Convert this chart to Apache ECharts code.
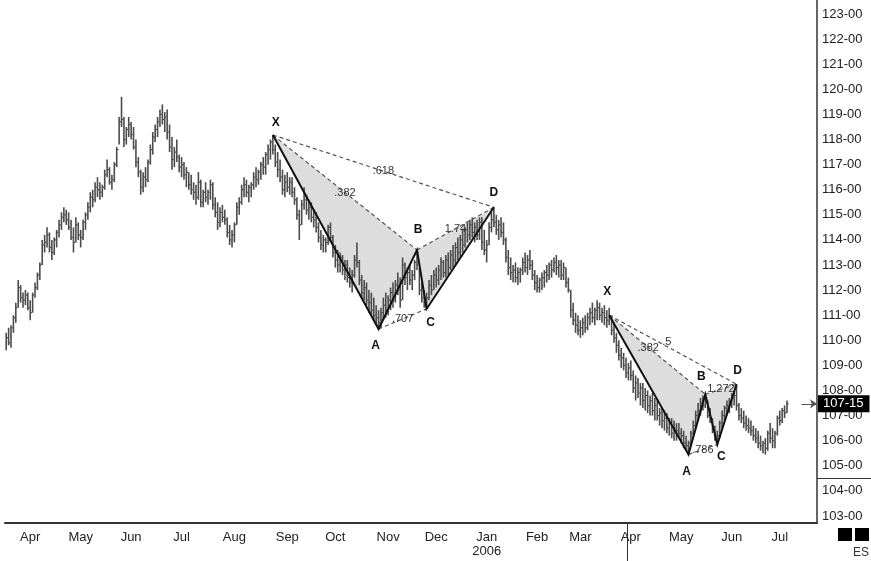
<!DOCTYPE html>
<html><head><meta charset="utf-8">
<script src="https://cdn.jsdelivr.net/npm/echarts@6/dist/echarts.min.js"></script>
<style>html,body{margin:0;padding:0;background:#fff}#c{width:871px;height:561px}</style>
</head><body><div id="c"></div>
<script>
const highs = [
110.3,110.5,110.6,111.0,111.5,112.4,112.2,111.9,112.0,111.9,
111.6,111.9,112.3,112.7,113.1,114.0,114.2,114.5,114.3,114.0,
114.1,114.4,114.8,115.1,115.3,115.2,115.1,114.8,114.5,114.9,
114.7,114.4,114.8,115.1,115.5,115.9,116.0,116.3,116.5,116.3,
116.2,116.8,117.2,116.9,116.6,117.1,117.7,118.9,119.7,118.9,
118.5,118.9,118.7,118.5,118.0,117.3,116.8,116.7,116.9,117.2,
117.8,118.3,118.6,118.9,119.2,119.4,119.1,119.2,118.6,118.1,
117.7,118.0,117.4,117.3,117.1,116.9,116.7,116.6,116.3,116.2,
116.7,116.4,116.0,116.3,116.0,116.4,116.3,115.7,115.5,115.3,
115.4,115.2,114.9,114.6,114.4,114.7,115.5,115.7,116.2,116.5,
116.4,116.2,116.3,116.7,116.9,116.8,117.1,117.3,117.5,117.8,
118.0,118.18,117.8,117.5,117.2,116.8,116.6,116.7,116.5,116.5,
116.1,115.7,115.2,115.6,116.1,115.8,115.6,115.5,115.2,115.1,
114.7,114.4,114.2,114.1,114.6,114.7,114.2,113.8,113.6,113.5,
113.4,113.2,113.2,112.9,112.8,113.4,113.9,113.2,112.6,112.4,
112.3,112.0,111.9,111.7,111.4,111.2,111.3,111.7,111.9,111.8,
112.1,112.3,112.4,112.7,112.5,113.3,113.1,112.9,113.0,112.8,
113.2,113.6,112.9,112.3,112.0,111.9,112.4,112.6,112.8,112.9,
113.0,113.3,113.2,113.4,113.5,113.6,113.8,113.9,114.1,114.2,
114.4,114.5,114.7,114.8,114.9,114.7,114.8,114.9,114.9,114.4,
114.0,114.7,115.1,115.3,115.0,114.8,114.9,114.7,114.1,113.6,
113.3,113.0,113.1,112.9,112.9,113.3,113.5,113.4,113.6,113.2,
112.8,112.6,112.5,112.7,112.8,113.0,113.1,113.2,113.3,113.4,
113.2,113.2,113.1,112.9,112.5,112.0,111.5,111.1,111.0,110.8,
110.9,111.0,111.1,111.3,111.5,111.3,111.6,111.5,111.3,111.4,
111.2,111.3,111.0,110.7,110.3,110.0,109.7,109.5,109.3,109.1,
109.2,108.8,108.6,108.5,108.3,108.3,108.1,108.0,107.8,107.9,
107.7,107.6,107.3,107.3,107.2,107.1,106.9,106.9,106.8,106.7,
106.7,106.5,106.4,106.2,106.0,106.4,106.8,107.2,107.5,107.7,
107.8,107.85,107.6,107.3,106.9,106.6,106.4,106.8,107.2,107.4,
107.6,107.7,107.9,108.0,108.25,107.5,107.3,107.2,107.0,106.9,
106.8,106.6,106.5,106.4,106.2,106.0,106.1,106.4,106.7,106.5,
106.4,107.0,107.2,107.3,107.4,107.6];
const lows = [
109.6,109.8,109.7,110.3,110.7,111.3,111.5,111.3,111.4,111.2,
110.8,111.1,111.7,112.0,112.4,113.0,113.5,113.7,113.5,113.2,
113.4,113.7,114.1,114.4,114.7,114.6,114.4,114.0,113.5,113.9,
114.0,113.7,114.0,114.4,114.8,115.1,115.3,115.5,115.7,115.6,
115.7,116.0,116.5,116.2,116.0,116.3,116.9,117.8,118.5,117.7,
117.8,118.1,118.0,117.6,116.9,116.5,115.8,115.9,116.1,116.3,
117.0,117.4,117.9,118.1,118.5,118.6,118.3,118.0,117.5,116.8,
116.9,117.1,116.7,116.5,116.4,116.1,116.0,115.8,115.6,115.4,
115.6,115.3,115.3,115.5,115.4,115.6,115.2,114.9,114.4,114.5,
114.7,114.6,114.1,113.8,113.7,113.9,114.6,115.0,115.4,115.7,
115.7,115.5,115.7,116.0,116.1,116.2,116.4,116.6,116.6,117.0,
117.2,117.4,116.9,116.5,116.3,115.8,115.7,115.9,115.8,115.7,
115.4,114.8,114.0,114.6,115.2,115.0,114.8,114.7,114.5,114.3,
113.9,113.6,113.5,113.5,113.8,113.9,113.3,112.9,112.7,112.7,
112.6,112.4,112.3,112.1,111.9,112.5,112.9,112.2,111.7,111.6,
111.4,111.1,111.0,110.8,110.6,110.45,110.5,110.8,110.9,111.0,
111.2,111.3,111.5,111.8,111.3,111.6,112.2,112.0,112.2,112.0,
112.4,112.8,111.8,111.5,111.3,111.25,111.6,111.8,112.0,112.1,
112.2,112.4,112.5,112.5,112.6,112.8,112.9,113.0,113.2,113.3,
113.5,113.7,113.9,114.0,114.1,113.9,114.0,114.0,113.6,113.4,
113.1,113.8,114.3,114.5,114.2,114.0,114.1,113.8,113.1,112.6,
112.4,112.3,112.3,112.2,112.3,112.6,112.7,112.6,112.8,112.4,
112.0,111.9,111.9,112.0,112.1,112.3,112.4,112.5,112.7,112.6,
112.5,112.4,112.4,112.1,111.9,110.9,110.6,110.3,110.2,110.1,
110.2,110.3,110.4,110.6,110.7,110.6,110.8,110.8,110.7,110.6,
110.5,110.6,110.2,109.9,109.5,109.2,108.9,108.8,108.5,108.4,
108.4,107.9,107.6,107.7,107.4,107.3,107.2,107.1,107.0,107.0,
106.8,106.8,106.6,106.5,106.4,106.3,106.2,106.1,106.0,106.0,
106.1,105.9,105.7,105.6,105.45,105.8,106.1,106.5,106.8,107.0,
107.2,107.3,106.9,106.7,106.3,106.0,105.85,106.1,106.5,106.8,
107.0,107.1,107.3,107.4,107.2,106.8,106.7,106.5,106.4,106.3,
106.2,106.0,105.9,105.7,105.6,105.5,105.45,105.6,105.9,105.7,
105.7,106.2,106.6,106.7,106.9,107.1];
const closes = [
110.1,109.9,110.5,110.9,111.3,112.1,111.7,111.6,111.8,111.3,
111.1,111.8,112.1,112.6,113.0,113.8,113.9,114.2,113.7,113.5,
114.0,114.3,114.6,114.9,115.0,114.8,114.5,114.1,113.9,114.6,
114.2,114.1,114.7,115.0,115.3,115.7,115.6,116.1,116.0,115.9,
116.1,116.6,116.8,116.3,116.4,117.0,117.6,118.7,118.8,118.0,
118.4,118.6,118.2,117.7,117.1,116.7,116.1,116.5,116.4,117.1,
117.6,118.1,118.4,118.7,119.0,118.8,118.9,118.3,117.7,117.2,
117.5,117.3,116.9,117.0,116.6,116.7,116.2,116.0,115.9,115.7,
116.3,115.5,115.9,115.7,115.9,116.2,115.4,115.1,114.7,115.1,
114.9,114.8,114.3,114.0,114.2,114.6,115.3,115.5,116.0,116.2,
115.9,116.1,116.2,116.5,116.4,116.7,117.0,116.9,117.4,117.6,
117.9,117.6,117.1,116.8,116.5,116.0,116.3,116.1,116.3,115.9,
115.6,115.0,114.6,115.4,115.6,115.2,115.3,114.9,114.8,114.5,
114.1,113.8,114.0,113.9,114.5,114.1,113.5,113.2,113.0,113.3,
112.8,113.0,112.5,112.3,112.6,113.2,113.1,112.4,111.9,112.1,
111.6,111.5,111.2,111.0,110.9,110.7,111.1,111.4,111.2,111.6,
111.9,111.6,112.2,112.0,111.6,113.0,112.5,112.7,112.4,112.6,
113.1,113.0,112.0,111.7,111.5,111.7,112.2,112.0,112.6,112.4,
112.8,113.1,112.7,113.2,112.9,113.4,113.2,113.7,113.5,114.0,
113.8,114.4,114.2,114.6,114.3,114.5,114.2,114.7,113.9,113.6,
113.8,114.5,114.8,114.7,114.4,114.6,114.3,114.0,113.3,112.9,
112.7,112.8,112.5,112.7,112.8,113.1,112.9,113.2,113.0,112.6,
112.3,112.1,112.4,112.5,112.7,112.6,113.0,112.8,113.1,112.9,
113.0,112.6,112.9,112.3,112.0,111.2,110.8,110.6,110.4,110.5,
110.7,110.5,110.9,111.1,110.9,111.2,111.3,111.0,111.1,110.9,
110.8,110.9,110.4,110.1,109.8,109.4,109.3,109.0,108.7,108.9,
108.6,108.1,108.3,107.9,108.1,107.6,107.8,107.4,107.6,107.2,
107.4,107.0,107.1,106.8,106.9,106.5,106.7,106.3,106.5,106.4,
106.3,106.2,105.9,105.8,105.9,106.3,106.6,107.0,107.2,107.5,
107.4,107.5,107.0,106.9,106.5,106.2,106.2,106.7,107.0,107.3,
107.4,107.6,107.7,107.8,107.4,107.0,106.9,106.7,106.6,106.5,
106.4,106.2,106.1,105.9,105.8,105.9,105.7,106.3,106.1,106.0,
106.3,106.9,106.8,107.2,107.1,107.47];

const monthTicks = [10,31,52,73,95,117,137,159,179,200,221,239,260,281,302,322];
const monthNames = ['Apr','May','Jun','Jul','Aug','Sep','Oct','Nov','Dec','Jan\n2006','Feb','Mar','Apr','May','Jun','Jul'];
const priceTicks = [103,104,105,106,107,108,109,110,111,112,113,114,115,116,117,118,119,120,121,122,123];
const pointNames = ['X','A','B','C','D'];
const p1Bars = [111,155,171,175,203];
const p1Prices = [118.18,110.45,113.6,111.25,115.3];
const p1Ratios = ['.382','.707','1.74','.618'];   // X-B, A-C, B-D, X-D
const p2Bars = [251,284,291,296,304];
const p2Prices = [111.0,105.45,107.85,105.85,108.25];
const p2Ratios = ['.382','.786','1.272','.5'];
const lastPrice = 107.47;
const lastPriceLabel = '107-15';
const cursorBar = 258.5;

const FONT = "'Liberation Sans', Arial, sans-serif";
const p1LblOff = [[3,-12],[-3,17],[1,-20],[4,14],[0,-15]];
const p2LblOff = [[-2,-24],[-2,17],[-4,-18],[4,12],[1,-14]];
const p1RatOff = [[0,0],[0,0],[0,0],[0,0]];
const p2RatOff = [[-9,-7],[0,0],[0,0],[-6,-8]];

function patternRender(bars, prices, ratios, lblOff, ratOff, layer) {
  return function (params, api) {
    const P = bars.map((b, k) => api.coord([b, prices[k]]));
    const ch = [];
    if (layer === 'fill') {
      ch.push({type:'polygon', shape:{points:[P[0],P[1],P[2]]}, style:{fill:'#dddddd'}});
      ch.push({type:'polygon', shape:{points:[P[2],P[3],P[4]]}, style:{fill:'#dddddd'}});
      return {type:'group', children: ch};
    }
    const pairs = [[0,2],[1,3],[2,4],[0,4]];
    pairs.forEach(function (pr, k) {
      const a = P[pr[0]], b = P[pr[1]];
      ch.push({type:'line', shape:{x1:a[0],y1:a[1],x2:b[0],y2:b[1]},
        style:{stroke:'#555', lineWidth:1.2, lineDash:[4,3]}});
      ch.push({type:'text', x:(a[0]+b[0])/2+ratOff[k][0], y:(a[1]+b[1])/2+ratOff[k][1],
        style:{text:ratios[k], fill:'#333', font:'11px ' + FONT, align:'center', verticalAlign:'middle', textAlign:'center', textVerticalAlign:'middle'}});
    });
    ch.push({type:'polyline', shape:{points:P}, style:{stroke:'#111', lineWidth:2, fill:null}});
    P.forEach(function (p, k) {
      ch.push({type:'text', x:p[0]+lblOff[k][0], y:p[1]+lblOff[k][1],
        style:{text:pointNames[k], fill:'#111', font:'bold 12px ' + FONT, align:'center', verticalAlign:'middle', textAlign:'center', textVerticalAlign:'middle'}});
    });
    return {type:'group', children: ch};
  };
}

function barRender(params, api) {
  const i = api.value(0);
  const h = api.coord([i, api.value(1)]);
  const l = api.coord([i, api.value(2)]);
  const c = api.coord([i, api.value(3)]);
  const x = h[0];
  return {type:'group', children:[
    {type:'line', shape:{x1:x, y1:h[1], x2:x, y2:l[1]}, style:{stroke:'#4c4c4c', lineWidth:1.6}},
    {type:'line', shape:{x1:x, y1:c[1], x2:x+1.8, y2:c[1]}, style:{stroke:'#4c4c4c', lineWidth:1.2}}
  ]};
}

const barData = highs.map((h, i) => [i, h, lows[i], closes[i]]);
const chart = echarts.init(document.getElementById('c'), null, {renderer:'canvas'});
chart.setOption({
  animation: false,
  backgroundColor: '#fff',
  grid: {left: 5, right: 54, top: 0, bottom: 38},
  xAxis: {
    type: 'value', min: -0.5, max: 337.5, position: 'bottom',
    axisLine: {show: true, onZero: false, lineStyle: {color: '#333', width: 2}},
    axisTick: {show: false}, splitLine: {show: false},
    axisLabel: {
      customValues: monthTicks, margin: 7, color: '#222', fontSize: 13, fontFamily: FONT, lineHeight: 14,
      formatter: function (v) { const k = monthTicks.indexOf(Math.round(v)); return k >= 0 ? monthNames[k] : ''; }
    }
  },
  yAxis: {
    type: 'value', min: 102.72, max: 123.56, position: 'right',
    axisLine: {show: true, onZero: false, lineStyle: {color: '#333', width: 1.5}},
    axisTick: {show: false}, splitLine: {show: false},
    axisLabel: {
      customValues: priceTicks, margin: 5, color: '#222', fontSize: 13, fontFamily: FONT,
      formatter: function (v) { return Math.round(v) + '-00'; }
    }
  },
  series: [
    {type:'custom', name:'p1fill', renderItem: patternRender(p1Bars,p1Prices,p1Ratios,p1LblOff,p1RatOff,'fill'), data:[[p1Bars[0], p1Prices[0]]], z:1, silent:true},
    {type:'custom', name:'p2fill', renderItem: patternRender(p2Bars,p2Prices,p2Ratios,p2LblOff,p2RatOff,'fill'), data:[[p2Bars[0], p2Prices[0]]], z:1, silent:true},
    {type:'custom', name:'bars', renderItem: barRender, data: barData, encode:{x:0, y:[1,2]}, z:2, silent:true,
      markLine: {
        silent: true, symbol: ['none','arrow'], symbolSize: 7, animation:false,
        lineStyle: {color:'#555', type:'solid', width:1},
        label: {show:true, position:'end', formatter: lastPriceLabel, backgroundColor:'#000', color:'#fff',
          fontSize: 13, fontFamily: FONT, padding:[2,6,2,5], distance: 1},
        data: [[{coord:[331, lastPrice]},{coord:[337.5, lastPrice]}]]
      }
    },
    {type:'custom', name:'p1', renderItem: patternRender(p1Bars,p1Prices,p1Ratios,p1LblOff,p1RatOff,'lines'), data:[[p1Bars[0], p1Prices[0]]], z:3, silent:true},
    {type:'custom', name:'p2', renderItem: patternRender(p2Bars,p2Prices,p2Ratios,p2LblOff,p2RatOff,'lines'), data:[[p2Bars[0], p2Prices[0]]], z:3, silent:true}
  ]
});

const cx = chart.convertToPixel({xAxisIndex:0}, cursorBar);
const axisRight = chart.convertToPixel({xAxisIndex:0}, 337.5);
const yDiv = chart.convertToPixel({yAxisIndex:0}, 104.5);
const yBottom = chart.convertToPixel({yAxisIndex:0}, 102.72);
chart.setOption({
  graphic: [
    {type:'line', shape:{x1:Math.round(cx)+0.5, y1:yBottom, x2:Math.round(cx)+0.5, y2:561}, style:{stroke:'#333', lineWidth:1}, silent:true},
    {type:'line', shape:{x1:axisRight, y1:Math.round(yDiv)+0.5, x2:871, y2:Math.round(yDiv)+0.5}, style:{stroke:'#333', lineWidth:1}, silent:true},
    {type:'rect', shape:{x:838, y:528, width:14, height:13}, style:{fill:'#000'}, silent:true},
    {type:'rect', shape:{x:855, y:528, width:14, height:13}, style:{fill:'#000'}, silent:true},
    {type:'text', x:861, y:553, style:{text:'ES', fill:'#333', font:'12px ' + FONT, align:'center', verticalAlign:'middle', textAlign:'center', textVerticalAlign:'middle'}, silent:true}
  ]
});
</script>
</body></html>
